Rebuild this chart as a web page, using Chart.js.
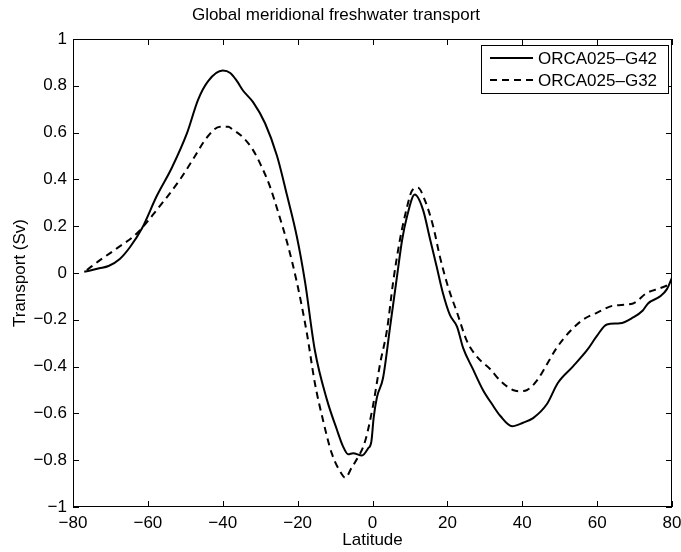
<!DOCTYPE html>
<html>
<head>
<meta charset="utf-8">
<script src="https://cdn.jsdelivr.net/npm/chart.js@4"></script>
<style>
  html, body { margin: 0; padding: 0; background: #fff; }
  #wrap { width: 681px; height: 552px; }
</style>
</head>
<body>
<div id="wrap"><canvas id="fwChart"></canvas></div>
<script>
// latitude / transport (Sv) for the two runs
const latG42 = [-77, -73, -70.5, -67.5, -64.8, -61.6, -57.6, -53.6, -49.5, -46.6, -43.9, -40, -38, -36.2, -34.6, -31.9, -28.7, -25.5, -22.8, -20.2, -18, -15.4, -12.2, -9.5, -7.9, -6.5, -5.2, -2.8, -1.2, -0.3, 0.3, 1.2, 2.8, 4.7, 6.5, 7.9, 9.2, 11.3, 13.5, 15.3, 17.1, 18.8, 20.7, 22.6, 24.2, 26.8, 29.5, 31.9, 34.1, 37.3, 40.2, 42.9, 46.6, 49.5, 53.5, 57.3, 59.9, 62.6, 66.1, 69.6, 72.2, 73.6, 76.8, 78.6, 80];
const valG42 = [0.005, 0.02, 0.03, 0.06, 0.11, 0.19, 0.33, 0.45, 0.60, 0.74, 0.82, 0.865, 0.855, 0.82, 0.78, 0.73, 0.64, 0.50, 0.33, 0.155, -0.04, -0.33, -0.54, -0.67, -0.74, -0.775, -0.77, -0.78, -0.75, -0.72, -0.62, -0.53, -0.45, -0.23, -0.02, 0.14, 0.24, 0.335, 0.27, 0.15, 0.03, -0.085, -0.18, -0.23, -0.32, -0.41, -0.50, -0.56, -0.61, -0.655, -0.64, -0.62, -0.56, -0.47, -0.40, -0.33, -0.27, -0.22, -0.215, -0.19, -0.16, -0.13, -0.10, -0.07, -0.02];

const latG32 = [-76.3, -72.8, -68.3, -62.9, -57.6, -51.4, -47.4, -44.2, -40.7, -38.5, -37.5, -34.6, -31.9, -29.5, -27.4, -25.2, -22.8, -20.2, -17.5, -15.4, -13.2, -10.9, -8.2, -7.3, -5.5, -4.7, -2.0, 0.1, 2.0, 3.9, 5.5, 7.3, 9.2, 10.5, 12.1, 14.0, 16.2, 18.0, 20.2, 22.6, 25.2, 28.0, 31.4, 34.1, 37.5, 39.5, 41.3, 43.9, 46.6, 49.2, 52.7, 56.2, 59.9, 64.2, 69.6, 73.3, 76.8, 80];
const valG32 = [0.013, 0.055, 0.105, 0.17, 0.27, 0.40, 0.50, 0.58, 0.625, 0.625, 0.615, 0.58, 0.525, 0.45, 0.37, 0.26, 0.13, -0.04, -0.26, -0.47, -0.63, -0.77, -0.86, -0.875, -0.83, -0.81, -0.72, -0.57, -0.39, -0.24, -0.04, 0.14, 0.28, 0.35, 0.365, 0.31, 0.20, 0.07, -0.06, -0.17, -0.29, -0.36, -0.41, -0.46, -0.50, -0.505, -0.50, -0.46, -0.39, -0.32, -0.25, -0.20, -0.17, -0.14, -0.13, -0.085, -0.065, -0.045];

const seriesNames = ['ORCA025\u2013G42', 'ORCA025\u2013G32'];
const latTicks = [-80, -60, -40, -20, 0, 20, 40, 60, 80];
const transportTicks = [-1, -0.8, -0.6, -0.4, -0.2, 0, 0.2, 0.4, 0.6, 0.8, 1];

const FONT = 'Liberation Sans, Arial, sans-serif';

function toPoints(xs, ys) {
    return xs.map((x, i) => ({ x: x, y: ys[i] }));
}
function fmt(v) {
    const s = String(Math.round(v * 10) / 10);
    return s.replace('-', '\u2212');
}

// frame with inward ticks on all four sides + boxed legend in the upper right
const matlabFrame = {
    id: 'matlabFrame',
    afterDraw: (chart) => {
        const { ctx, chartArea: a, scales: { x, y } } = chart;
        ctx.save();
        ctx.strokeStyle = '#000';
        ctx.lineWidth = 1;
        ctx.strokeRect(a.left + 0.5, a.top + 0.5, a.right - a.left - 1, a.bottom - a.top - 1);
        const tl = 6;
        ctx.beginPath();
        latTicks.forEach(v => {
            const px = Math.round(x.getPixelForValue(v)) + 0.5;
            ctx.moveTo(px, a.bottom); ctx.lineTo(px, a.bottom - tl);
            ctx.moveTo(px, a.top); ctx.lineTo(px, a.top + tl);
        });
        transportTicks.forEach(v => {
            const py = Math.round(y.getPixelForValue(v)) + 0.5;
            ctx.moveTo(a.left, py); ctx.lineTo(a.left + tl, py);
            ctx.moveTo(a.right, py); ctx.lineTo(a.right - tl, py);
        });
        ctx.stroke();

        // legend
        const bw = 187, bh = 48;
        const bx = a.right - 4 - bw, by = a.top + 6;
        ctx.fillStyle = '#fff';
        ctx.fillRect(bx, by, bw, bh);
        ctx.strokeRect(bx + 0.5, by + 0.5, bw, bh);
        ctx.font = '17px ' + FONT;
        ctx.textBaseline = 'middle';
        ctx.textAlign = 'left';
        chart.data.datasets.forEach((ds, i) => {
            const ry = by + 13 + i * 22;
            ctx.beginPath();
            ctx.lineWidth = 2;
            ctx.setLineDash(ds.borderDash || []);
            ctx.moveTo(bx + 9, ry); ctx.lineTo(bx + 52, ry);
            ctx.stroke();
            ctx.setLineDash([]);
            ctx.fillStyle = '#000';
            ctx.fillText(ds.label, bx + 57, ry + 1);
        });
        ctx.restore();
    }
};

const ctx = document.getElementById('fwChart');
const fwChart = new Chart(ctx, {
    type: 'line',
    data: {
        datasets: [{
            label: seriesNames[0],
            data: toPoints(latG42, valG42),
            borderColor: '#000',
            borderWidth: 2,
            pointRadius: 0,
            cubicInterpolationMode: 'monotone'
        },
        {
            label: seriesNames[1],
            data: toPoints(latG32, valG32),
            borderColor: '#000',
            borderWidth: 2,
            borderDash: [7, 5],
            pointRadius: 0,
            cubicInterpolationMode: 'monotone'
        }]
    },
    plugins: [matlabFrame],
    options: {
        responsive: true,
        maintainAspectRatio: false,
        animation: false,
        layout: {
            padding: { top: 0, right: 9, bottom: 0, left: 0 }
        },
        plugins: {
            legend: { display: false },
            tooltip: { enabled: false },
            title: {
                display: true,
                text: 'Global meridional freshwater transport',
                color: '#000',
                font: { family: FONT, size: 17, weight: 'normal' },
                padding: { top: 5, bottom: 13.6 }
            }
        },
        scales: {
            x: {
                type: 'linear',
                min: -80,
                max: 80,
                afterFit: (s) => { s.height = 45; s.paddingLeft = 0; s.paddingRight = 0; },
                afterBuildTicks: (s) => { s.ticks = latTicks.map(v => ({ value: v })); },
                grid: { display: false, drawTicks: false },
                border: { display: false },
                ticks: {
                    color: '#000',
                    padding: 6,
                    maxRotation: 0,
                    font: { family: FONT, size: 17 },
                    callback: (v) => fmt(v)
                },
                title: {
                    display: true,
                    text: 'Latitude',
                    color: '#000',
                    font: { family: FONT, size: 17 },
                    padding: { top: 0, bottom: 1 }
                }
            },
            y: {
                type: 'linear',
                min: -1,
                max: 1,
                afterFit: (s) => { s.width = 73; s.paddingTop = 0; s.paddingBottom = 0; },
                afterBuildTicks: (s) => { s.ticks = transportTicks.map(v => ({ value: v })); },
                grid: { display: false, drawTicks: false },
                border: { display: false },
                ticks: {
                    color: '#000',
                    padding: 6,
                    font: { family: FONT, size: 17 },
                    callback: (v) => fmt(v)
                },
                title: {
                    display: true,
                    text: 'Transport (Sv)',
                    color: '#000',
                    font: { family: FONT, size: 17 },
                    padding: { top: 10, bottom: 0 }
                }
            }
        }
    }
});
</script>
</body>
</html>
